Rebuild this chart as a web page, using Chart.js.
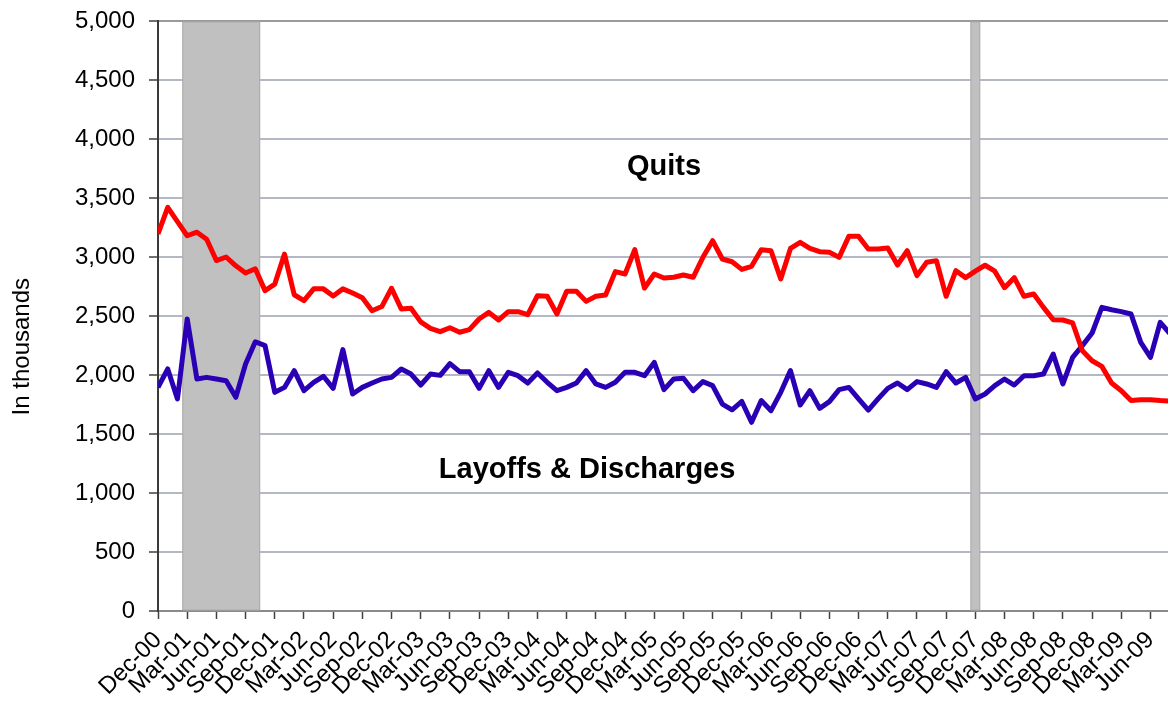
<!DOCTYPE html>
<html>
<head>
<meta charset="utf-8">
<script src="https://cdn.jsdelivr.net/npm/chart.js@4/dist/chart.umd.min.js"></script>
<style>
  html, body { margin: 0; padding: 0; background: #fff; }
  #wrap { width: 1168px; height: 709px; }
</style>
</head>
<body>
<div id="wrap"><canvas id="jolts" width="1168" height="709"></canvas></div>
<script>
// tick labels, one every 3 months starting Dec-00
const tickLabels = [
  "Dec-00", "Mar-01", "Jun-01", "Sep-01", "Dec-01", "Mar-02", "Jun-02", "Sep-02", "Dec-02",
  "Mar-03", "Jun-03", "Sep-03", "Dec-03", "Mar-04", "Jun-04", "Sep-04", "Dec-04",
  "Mar-05", "Jun-05", "Sep-05", "Dec-05", "Mar-06", "Jun-06", "Sep-06", "Dec-06",
  "Mar-07", "Jun-07", "Sep-07", "Dec-07", "Mar-08", "Jun-08", "Sep-08", "Dec-08",
  "Mar-09", "Jun-09",
];

// monthly values (thousands), Dec-00 .. Aug-09
const quits = [
  3195, 3420, 3300, 3180, 3210, 3150, 2970, 3000, 2925, 2865, 2900, 2715,
  2770, 3025, 2680, 2630, 2730, 2730, 2670, 2730, 2695, 2655, 2545, 2580,
  2735, 2560, 2565, 2450, 2395, 2367, 2400, 2362, 2384, 2475, 2531, 2466,
  2537, 2537, 2511, 2672, 2667, 2517, 2709, 2709, 2624, 2667, 2678, 2876,
  2856, 3062, 2737, 2856, 2822, 2828, 2847, 2828, 2997, 3138, 2983, 2960,
  2895, 2921, 3062, 3053, 2814, 3073, 3124, 3073, 3045, 3040, 2997, 3175,
  3175, 3068, 3068, 3076, 2932, 3053, 2842, 2955, 2969, 2667, 2884, 2825,
  2880, 2930, 2880, 2740, 2825, 2667, 2686, 2573, 2469, 2466, 2441, 2206,
  2121, 2073, 1932, 1867, 1783, 1791, 1791, 1783, 1780,
];

const layoffs = [
  1895, 2051, 1797, 2475, 1966, 1980, 1966, 1952, 1811, 2093, 2282, 2249,
  1853, 1895, 2037, 1867, 1938, 1989, 1887, 2215, 1839, 1895, 1932, 1966,
  1980, 2051, 2008, 1915, 2008, 1997, 2097, 2028, 2028, 1887, 2037, 1895,
  2023, 1994, 1932, 2017, 1938, 1867, 1895, 1932, 2037, 1924, 1895, 1938,
  2023, 2023, 1994, 2107, 1876, 1966, 1972, 1867, 1944, 1910, 1754, 1705,
  1776, 1599, 1783, 1698, 1853, 2037, 1746, 1867, 1717, 1774, 1876, 1895,
  1797, 1703, 1797, 1887, 1932, 1876, 1944, 1924, 1895, 2028, 1932, 1980,
  1797, 1839, 1910, 1966, 1915, 1994, 1994, 2008, 2178, 1924, 2149, 2249,
  2356, 2573, 2553, 2537, 2517, 2277, 2149, 2446, 2350,
];

// recessions, as month indices from Dec-00 (inclusive)
const recessionStart = [3, 84];
const recessionEnd = [10, 84];

const FONT = "'Liberation Sans', Arial, sans-serif";

const toPoints = (arr) => arr.map((v, i) => ({ x: i, y: v }));

const overlayPlugin = {
  id: "overlay",
  beforeDatasetsDraw(chart) {
    const { ctx, chartArea, scales: { x } } = chart;
    ctx.save();
    recessionStart.forEach((s, k) => {
      const x0 = x.getPixelForValue(s - 0.5);
      const x1 = x.getPixelForValue(recessionEnd[k] + 0.5);
      const top = chartArea.top + 1;
      ctx.fillStyle = "#c0c0c0";
      ctx.fillRect(x0, top, x1 - x0, chartArea.bottom - top - 1);
      ctx.strokeStyle = "#acacac";
      ctx.lineWidth = 1;
      ctx.strokeRect(x0 + 0.5, top, x1 - x0 - 1, chartArea.bottom - top - 1);
    });
    ctx.restore();
  },
  afterDatasetsDraw(chart) {
    const { ctx, scales: { x, y } } = chart;
    ctx.save();
    ctx.fillStyle = "#000";
    ctx.textAlign = "center";
    ctx.textBaseline = "middle";
    ctx.font = "bold 29px " + FONT;
    ctx.fillText("Quits", x.getPixelForValue(52), y.getPixelForValue(3765));
    ctx.fillText("Layoffs & Discharges", x.getPixelForValue(44.1), y.getPixelForValue(1195));
    // y axis title
    ctx.font = "24px " + FONT;
    ctx.translate(22, y.getPixelForValue(2240));
    ctx.rotate(-Math.PI / 2);
    ctx.fillText("In thousands", 0, 0);
    ctx.restore();
  },
};

new Chart(document.getElementById("jolts").getContext("2d"), {
  type: "line",
  data: {
    datasets: [
      {
        label: "Quits",
        data: toPoints(quits),
        borderColor: "#ff0000",
        borderWidth: 5,
        pointRadius: 0,
        tension: 0,
        borderJoinStyle: "round",
      },
      {
        label: "Layoffs & Discharges",
        data: toPoints(layoffs),
        borderColor: "#2a00b4",
        borderWidth: 5,
        pointRadius: 0,
        tension: 0,
        borderJoinStyle: "round",
      },
    ],
  },
  options: {
    responsive: false,
    devicePixelRatio: 1,
    animation: false,
    layout: { padding: { top: 21, right: 0, bottom: 0, left: 0 } },
    plugins: {
      legend: { display: false },
      tooltip: { enabled: false },
    },
    scales: {
      x: {
        type: "linear",
        min: 0,
        max: 103.8,
        afterBuildTicks: (scale) => {
          scale.ticks = tickLabels.map((_, k) => ({ value: k * 3 }));
        },
        afterFit: (scale) => {
          scale.height = 98;
          scale.paddingLeft = 0;
          scale.paddingRight = 0;
        },
        ticks: {
          autoSkip: false,
          maxRotation: 45,
          minRotation: 45,
          padding: 7,
          color: "#000",
          font: { family: FONT, size: 24 },
          callback: (value) => tickLabels[Math.round(value / 3)],
        },
        grid: {
          drawOnChartArea: false,
          tickLength: 8,
          tickColor: "#404040",
          tickWidth: 1.5,
        },
        border: { color: "#8a8a8a", width: 2 },
      },
      y: {
        min: 0,
        max: 5000,
        afterFit: (scale) => {
          scale.width = 158;
          scale.paddingTop = 0;
          scale.paddingBottom = 0;
        },
        ticks: {
          stepSize: 500,
          padding: 14,
          color: "#000",
          font: { family: FONT, size: 24 },
          callback: (value) => value.toLocaleString("en-US"),
        },
        grid: {
          color: (ctx) => (ctx.tick && ctx.tick.value === 5000 ? "#9a9a9a" : "#b4b8c4"),
          lineWidth: 2,
          tickLength: 9,
          tickColor: "#404040",
          tickWidth: 1.5,
        },
        border: { color: "#3a3a3a", width: 2 },
      },
    },
  },
  plugins: [overlayPlugin],
});
</script>
</body>
</html>
